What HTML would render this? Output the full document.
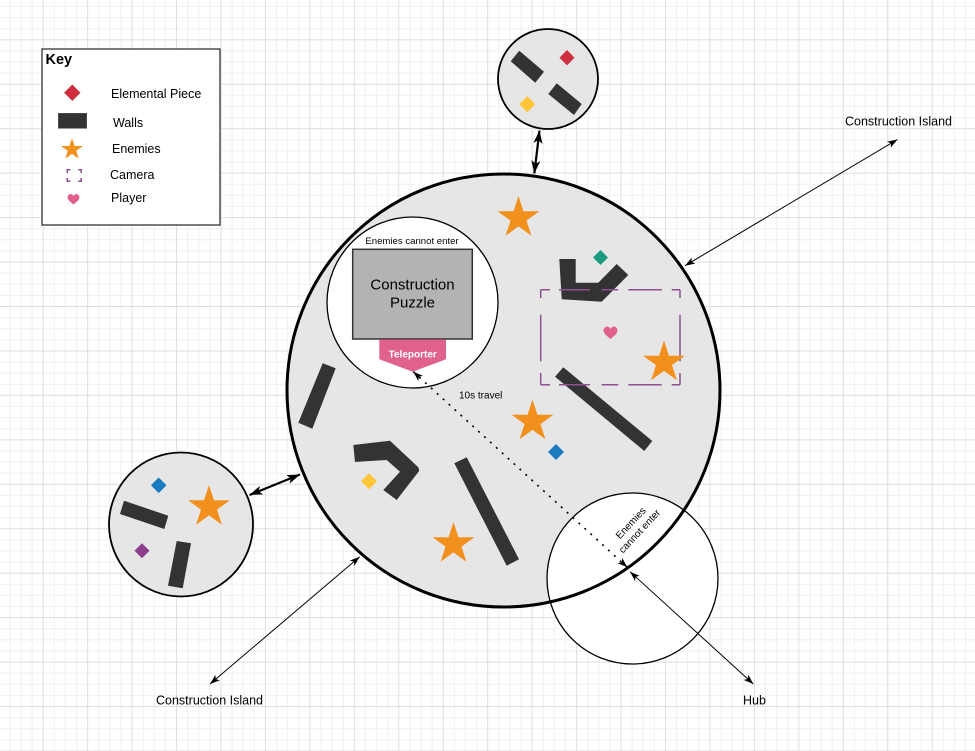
<!DOCTYPE html>
<html><head><meta charset="utf-8"><style>
html,body{margin:0;padding:0;background:#fff;}
svg{display:block;}
text{font-family:"Liberation Sans",Arial,sans-serif;fill:#000;}
</style></head><body>
<svg width="975" height="751" viewBox="0 0 975 751" xmlns="http://www.w3.org/2000/svg">
<defs>
<pattern id="g" x="42.7" y="39.3" width="44.45" height="44.45" patternUnits="userSpaceOnUse">
<path d="M11.6 0V44.45M22.7 0V44.45M33.8 0V44.45M0 11.6H44.45M0 22.7H44.45M0 33.8H44.45" stroke="#efefef" stroke-width="1" fill="none"/>
<path d="M0.5 0V44.45M0 0.5H44.45" stroke="#dedede" stroke-width="1" fill="none"/>
</pattern>
<marker id="a" viewBox="0 0 10 7" refX="10" refY="3.5" markerWidth="10" markerHeight="7" markerUnits="userSpaceOnUse" orient="auto-start-reverse"><path d="M0,0 L10,3.5 L0,7 L2.5,3.5 Z" fill="#000"/></marker>
<marker id="b" viewBox="0 0 10 7" refX="10" refY="3.5" markerWidth="13" markerHeight="10" markerUnits="userSpaceOnUse" orient="auto-start-reverse"><path d="M0,0 L10,3.5 L0,7 L2.5,3.5 Z" fill="#000"/></marker>
</defs>
<rect x="0" y="0" width="975" height="751" fill="#fff"/>
<rect x="0" y="0" width="975" height="751" fill="url(#g)"/>

<!-- Key -->
<rect x="42" y="49" width="178" height="176" fill="#fff" stroke="#333" stroke-width="1.3"/>
<text x="45.5" y="64" font-size="14.5" font-weight="bold">Key</text>
<polygon points="72.3,84.5 80.5,92.7 72.3,100.9 64.1,92.7" fill="#cf2e3e"/>
<text x="111" y="98" font-size="12.5">Elemental Piece</text>
<rect x="58.3" y="113.3" width="28.4" height="15" fill="#333" stroke="#555" stroke-width="0.6"/>
<text x="113" y="127" font-size="12.5">Walls</text>
<polygon transform="translate(72,149.5) scale(11.5)" points="0,-1 0.2245,-0.309 0.9511,-0.309 0.3633,0.118 0.5878,0.809 0,0.382 -0.5878,0.809 -0.3633,0.118 -0.9511,-0.309 -0.2245,-0.309" fill="#f2901e"/>
<text x="112" y="153" font-size="12.5">Enemies</text>
<path d="M67.2 173V169.8H70.4M78.2 169.8H81.2V173M81.2 178V181.2H78.2M70.4 181.2H67.2V178" fill="none" stroke="#8e4f93" stroke-width="1.5"/>
<text x="110" y="179" font-size="12.5">Camera</text>
<path transform="translate(73.5,199.5) scale(0.85)" d="M0,6 C-2,4 -7,1 -7,-2.5 C-7,-5 -5,-6.5 -3.5,-6.5 C-2,-6.5 -0.7,-5.5 0,-4 C0.7,-5.5 2,-6.5 3.5,-6.5 C5,-6.5 7,-5 7,-2.5 C7,1 2,4 0,6 Z" fill="#e0628a"/>
<text x="111" y="202" font-size="12.5">Player</text>

<!-- connectors outside -->
<line x1="685" y1="265.7" x2="897.5" y2="139.5" stroke="#000" stroke-width="1" marker-start="url(#a)" marker-end="url(#a)"/>
<line x1="210" y1="684" x2="359.7" y2="556.8" stroke="#000" stroke-width="1" marker-start="url(#a)" marker-end="url(#a)"/>
<line x1="539.5" y1="130.5" x2="534.3" y2="173.5" stroke="#000" stroke-width="2.2" marker-start="url(#b)" marker-end="url(#b)"/>
<line x1="249.5" y1="495" x2="300" y2="474.5" stroke="#000" stroke-width="2.2" marker-start="url(#b)" marker-end="url(#b)"/>

<!-- main circle fill -->
<circle cx="503.5" cy="390.5" r="216.5" fill="#e6e6e6"/>
<!-- hub circle -->
<circle cx="632.5" cy="578.5" r="85.5" fill="#fff" stroke="#000" stroke-width="1.3"/>
<!-- main circle stroke -->
<circle cx="503.5" cy="390.5" r="216.5" fill="none" stroke="#000" stroke-width="3"/>

<!-- top small circle -->
<circle cx="548" cy="79" r="50" fill="#e6e6e6" stroke="#000" stroke-width="1.8"/>
<polygon points="519.3,50.7 544,71.7 535.3,82.7 510.7,61.3" fill="#333"/>
<polygon points="556.7,83.3 581.7,104 574,115 548.3,94" fill="#333"/>
<polygon points="567,50 574.5,57.7 567,65.4 559.5,57.7" fill="#cf2e3e"/>
<polygon points="527.3,96.3 535.3,104.3 527.3,112.3 519.3,104.3" fill="#ffc637"/>

<!-- left small circle -->
<circle cx="181" cy="524.5" r="72" fill="#e6e6e6" stroke="#000" stroke-width="1.8"/>
<polygon points="124,500.7 168.3,515.7 164.3,529 120,514" fill="#333"/>
<polygon points="176.7,541 191,543.3 182.7,588.3 168,585.7" fill="#333"/>
<polygon points="158.7,477.5 166.5,485.3 158.7,493.1 150.9,485.3" fill="#1a7bbf"/>
<polygon points="142,543.2 149.5,550.7 142,558.2 134.5,550.7" fill="#8a3f8a"/>
<polygon transform="translate(209,507) scale(22)" points="0,-1 0.2245,-0.309 0.9511,-0.309 0.3633,0.118 0.5878,0.809 0,0.382 -0.5878,0.809 -0.3633,0.118 -0.9511,-0.309 -0.2245,-0.309" fill="#f2901e"/>

<!-- puzzle circle -->
<circle cx="412.5" cy="302.5" r="85.5" fill="#fff" stroke="#000" stroke-width="1.3"/>
<text x="412" y="244" font-size="9.6" text-anchor="middle">Enemies cannot enter</text>
<rect x="352.7" y="249.3" width="119.6" height="89.7" fill="#b3b3b3" stroke="#333" stroke-width="1.5"/>
<text x="412.5" y="289.5" font-size="15" text-anchor="middle" fill="#111">Construction</text>
<text x="412.5" y="307.5" font-size="15" text-anchor="middle" fill="#111">Puzzle</text>
<polygon points="379.3,339.5 446,339.5 446,359.3 412.7,371.7 379.3,359.3" fill="#e0628a"/>
<text x="412.7" y="357.3" font-size="10" font-weight="bold" text-anchor="middle" fill="#fff" style="fill:#fff">Teleporter</text>

<!-- walls main -->
<polygon points="322.7,363.3 335.7,368.3 312.3,428.7 298.3,422.7" fill="#333"/>
<polygon points="353.3,445 390,440.7 418.3,467.3 419.3,470.7 396.7,500 383.3,490 400,471.7 386.7,460 355,462" fill="#333"/>
<polygon points="454.3,463.3 466.7,457.3 519,559.3 506.7,565.7" fill="#333"/>
<polygon points="559.3,259 575.7,259 575.7,282.7 598.3,282.7 616.7,264 628.3,275 601.7,301.7 561.7,299.3" fill="#333"/>
<polygon points="555,376.7 563.3,367.3 652.3,441 644.3,451" fill="#333"/>

<!-- diamonds main -->
<polygon points="600.5,250 608,257.5 600.5,265 593,257.5" fill="#1a9b7e"/>
<polygon points="556,444 564,452 556,460 548,452" fill="#1a7bbf"/>
<polygon points="369,473.3 377,481.3 369,489.3 361,481.3" fill="#ffc637"/>

<!-- camera rect -->
<path d="M540.7 289.7H550M559 289.7H590M601.7 289.7H618.3M628.3 289.7H661.7M671.7 289.7H680
M540.7 384.7H550M559 384.7H590M601.7 384.7H618.3M628.3 384.7H661.7M671.7 384.7H680
M540.7 289.7V298M540.7 314.7V361.3M540.7 373V384.7
M680 289.7V298M680 314.7V361.3M680 373V384.7" fill="none" stroke="#8e4f93" stroke-width="1.5"/>

<!-- stars main -->
<polygon transform="translate(518.5,218) scale(22)" points="0,-1 0.2245,-0.309 0.9511,-0.309 0.3633,0.118 0.5878,0.809 0,0.382 -0.5878,0.809 -0.3633,0.118 -0.9511,-0.309 -0.2245,-0.309" fill="#f2901e"/>
<polygon transform="translate(664,362.5) scale(22)" points="0,-1 0.2245,-0.309 0.9511,-0.309 0.3633,0.118 0.5878,0.809 0,0.382 -0.5878,0.809 -0.3633,0.118 -0.9511,-0.309 -0.2245,-0.309" fill="#f2901e"/>
<polygon transform="translate(532.5,421.5) scale(22)" points="0,-1 0.2245,-0.309 0.9511,-0.309 0.3633,0.118 0.5878,0.809 0,0.382 -0.5878,0.809 -0.3633,0.118 -0.9511,-0.309 -0.2245,-0.309" fill="#f2901e"/>
<polygon transform="translate(453.5,544) scale(22)" points="0,-1 0.2245,-0.309 0.9511,-0.309 0.3633,0.118 0.5878,0.809 0,0.382 -0.5878,0.809 -0.3633,0.118 -0.9511,-0.309 -0.2245,-0.309" fill="#f2901e"/>

<!-- heart -->
<path transform="translate(610.5,333)" d="M0,6 C-2,4 -7,1 -7,-2.5 C-7,-5 -5,-6.5 -3.5,-6.5 C-2,-6.5 -0.7,-5.5 0,-4 C0.7,-5.5 2,-6.5 3.5,-6.5 C5,-6.5 7,-5 7,-2.5 C7,1 2,4 0,6 Z" fill="#e0628a"/>

<!-- dotted travel line -->
<line x1="413.3" y1="371.7" x2="627.3" y2="567.3" stroke="#000" stroke-width="1.6" stroke-dasharray="2 6" marker-start="url(#a)" marker-end="url(#a)"/>
<text x="459" y="398.5" font-size="10">10s travel</text>

<!-- hub arrow -->
<line x1="630" y1="571.7" x2="753.3" y2="684" stroke="#000" stroke-width="1" marker-start="url(#a)" marker-end="url(#a)"/>

<!-- rotated text in hub -->
<g transform="translate(635,527) rotate(-47)">
<text x="0" y="-2.5" font-size="10" text-anchor="middle">Enemies</text>
<text x="0" y="9.5" font-size="10" text-anchor="middle">cannot enter</text>
</g>

<!-- labels -->
<text x="845" y="125.5" font-size="12.5">Construction Island</text>
<text x="156" y="704.5" font-size="12.5">Construction Island</text>
<text x="743" y="704.5" font-size="12.5">Hub</text>
</svg>
</body></html>
